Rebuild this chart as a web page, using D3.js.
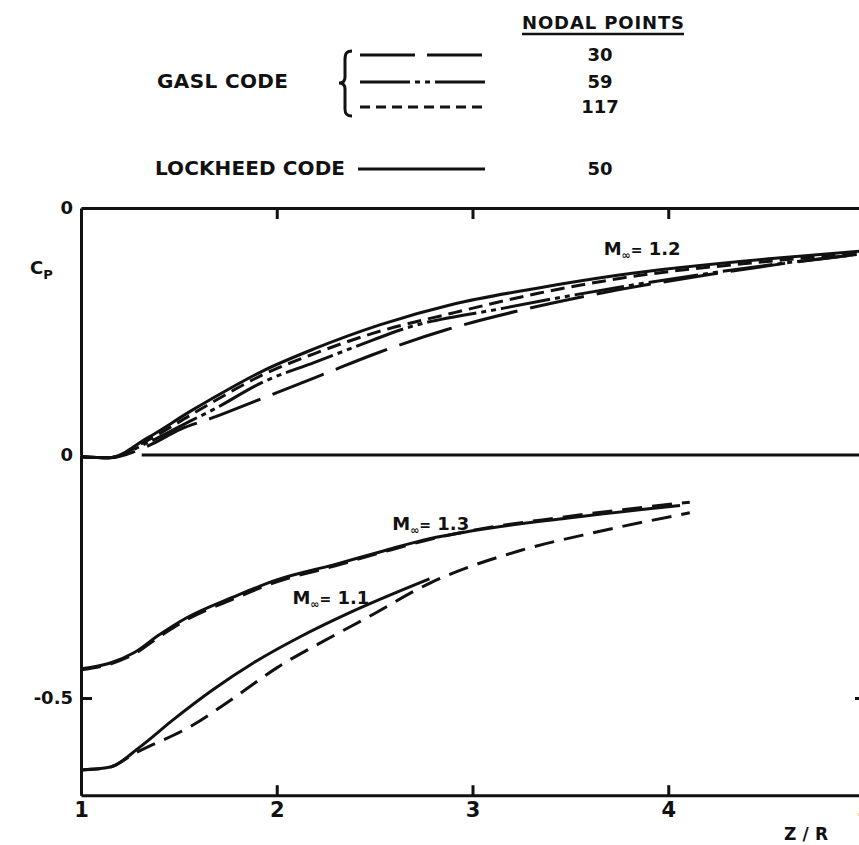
<!DOCTYPE html>
<html>
<head>
<meta charset="utf-8">
<script src="https://cdn.jsdelivr.net/npm/d3@7/dist/d3.min.js"></script>
<style>
  body { margin: 0; background: #fff; }
  svg { display: block; }
  text { font-family: "DejaVu Sans", sans-serif; font-weight: bold; fill: #111; }
</style>
</head>
<body>
<div id="chart"></div>
<script>
// ── Data (Z/R, Cp) ─────────────────────────────────────────────────────────
// Upper panel, M = 1.2 (Cp measured from the upper panel's own zero)
const M12_LOCKHEED_50 = [
    [1.00, -0.512], [1.14, -0.514], [1.34, -0.473], [1.56, -0.418], [1.67, -0.392],
    [1.93, -0.335], [2.19, -0.290], [2.53, -0.240], [2.90, -0.198], [3.33, -0.165],
    [3.75, -0.138], [4.56, -0.103], [5.00, -0.088]
];
const M12_GASL_117 = [
    [1.00, -0.512], [1.14, -0.514], [1.34, -0.478], [1.56, -0.426], [1.67, -0.400],
    [1.93, -0.343], [2.19, -0.300], [2.49, -0.258], [2.90, -0.216], [3.33, -0.176],
    [3.75, -0.145], [4.56, -0.108], [5.00, -0.092]
];
const M12_GASL_59 = [
    [1.00, -0.512], [1.14, -0.514], [1.34, -0.483], [1.56, -0.438], [1.67, -0.416],
    [1.93, -0.358], [2.19, -0.318], [2.49, -0.272], [2.63, -0.251], [3.16, -0.206],
    [3.75, -0.163], [4.56, -0.115], [5.00, -0.094]
];
const M12_GASL_30 = [
    [1.00, -0.512], [1.14, -0.514], [1.34, -0.490], [1.51, -0.455], [1.67, -0.432],
    [1.93, -0.391], [2.27, -0.337], [2.49, -0.302], [2.87, -0.250], [3.23, -0.212],
    [3.57, -0.182], [3.75, -0.168], [4.21, -0.137], [4.56, -0.116], [5.00, -0.094]
];

// Lower panel, M = 1.3 and M = 1.1
const M13_LOCKHEED_50 = [
    [1.00, -0.440], [1.15, -0.428], [1.27, -0.407], [1.40, -0.370], [1.54, -0.335],
    [1.78, -0.292], [2.00, -0.257], [2.29, -0.226], [2.54, -0.198], [2.78, -0.172],
    [3.00, -0.156], [3.46, -0.131], [4.06, -0.104]
];
const M13_GASL_117 = [
    [1.00, -0.442], [1.15, -0.430], [1.27, -0.410], [1.40, -0.374], [1.54, -0.339],
    [1.78, -0.296], [2.00, -0.261], [2.29, -0.229], [2.54, -0.200], [2.78, -0.174],
    [3.00, -0.155], [3.46, -0.128], [4.11, -0.097]
];
const M11_LOCKHEED_50 = [
    [1.00, -0.648], [1.15, -0.642], [1.30, -0.601], [1.47, -0.545], [1.67, -0.484],
    [1.88, -0.428], [2.12, -0.374], [2.37, -0.325], [2.78, -0.255]
];
const M11_GASL_117 = [
    [1.00, -0.648], [1.15, -0.642], [1.27, -0.615], [1.57, -0.556], [1.78, -0.500],
    [2.00, -0.438], [2.29, -0.372], [2.46, -0.335], [2.78, -0.264], [3.24, -0.197],
    [3.64, -0.158], [4.11, -0.119]
];

const X_TICKS = [1, 2, 3, 4, 5];
const Y_TICKS = [0, -0.5];
const LEGEND_ROWS = [
    { code: "GASL", nodes: "30", dash: "55,12" },
    { code: "GASL", nodes: "59", dash: "50,5,5,5,5,5" },
    { code: "GASL", nodes: "117", dash: "10,6" },
    { code: "LOCKHEED", nodes: "50", dash: null },
];

// ── Layout ─────────────────────────────────────────────────────────────────
const W = 859, H = 845;
const svg = d3.select("#chart").append("svg")
    .attr("width", W).attr("height", H);
svg.append("rect").attr("width", W).attr("height", H).attr("fill", "#fff");

const x = d3.scaleLinear().domain([1, 5]).range([81, 864]);
const y = d3.scaleLinear().domain([0, -0.7]).range([455, 795.2]);       // lower panel
const yUp = d3.scaleLinear().domain([0, -0.5]).range([208, 451]);       // upper panel

const line = ys => d3.line()
    .x(d => x(d[0]))
    .y(d => ys(d[1]))
    .curve(d3.curveMonotoneX);

// ── Curves ─────────────────────────────────────────────────────────────────
const curves = [
    { data: M12_GASL_30, ys: yUp, dash: "55,13" },
    { data: M12_GASL_59, ys: yUp, dash: "50,5,5,5,5,5" },
    { data: M12_GASL_117, ys: yUp, dash: "14,7" },
    { data: M12_LOCKHEED_50, ys: yUp, dash: null },
    { data: M13_GASL_117, ys: y, dash: "20,10" },
    { data: M13_LOCKHEED_50, ys: y, dash: null },
    { data: M11_GASL_117, ys: y, dash: "20,10" },
    { data: M11_LOCKHEED_50, ys: y, dash: null },
];

const gCurves = svg.append("g");
curves.forEach(c => {
    gCurves.append("path")
        .attr("d", line(c.ys)(c.data))
        .attr("fill", "none")
        .attr("stroke", "#111")
        .attr("stroke-width", 3)
        .attr("stroke-dasharray", c.dash);
});

// lower panel zero line (starts where the upper curves leave it)
svg.append("line")
    .attr("x1", x(1.31)).attr("x2", x(5))
    .attr("y1", y(0)).attr("y2", y(0))
    .attr("stroke", "#111").attr("stroke-width", 3);

// ── Axes / frame ───────────────────────────────────────────────────────────
function styleAxis(g) {
    g.selectAll("path, line").attr("stroke", "#111").attr("stroke-width", 3);
    g.selectAll("text").attr("fill", "#111")
        .style("font-family", "DejaVu Sans, sans-serif").style("font-weight", "bold");
}

svg.append("g")
    .attr("transform", `translate(0,${y(-0.7)})`)
    .call(d3.axisBottom(x).tickValues(X_TICKS).tickSizeInner(-10).tickSizeOuter(0)
        .tickPadding(7).tickFormat(d3.format("d")))
    .call(styleAxis)
    .call(g => g.selectAll("text").style("font-size", "21px"));

svg.append("g")
    .attr("transform", `translate(0,${yUp(0)})`)
    .call(d3.axisTop(x).tickValues([2, 3, 4]).tickSizeInner(-11).tickSizeOuter(0).tickFormat(""))
    .call(styleAxis);

svg.append("g")
    .attr("transform", `translate(${x(1)},0)`)
    .call(d3.axisLeft(y).tickValues(Y_TICKS).tickSizeInner(-11).tickSizeOuter(0)
        .tickPadding(8).tickFormat(d => d === 0 ? "0" : "-0.5"))
    .call(styleAxis)
    .call(g => g.selectAll("text").style("font-size", "18px"))
    .call(g => g.selectAll(".tick line").filter(d => d === 0).remove());

const yUpAxis = d3.scaleLinear().domain([0, -0.508]).range([208, 455]);
svg.append("g")
    .attr("transform", `translate(${x(1)},0)`)
    .call(d3.axisLeft(yUpAxis).tickValues([0]).tickSize(0).tickPadding(8).tickFormat(() => "0"))
    .call(styleAxis)
    .call(g => g.selectAll("text").style("font-size", "18px"));

svg.append("g")
    .attr("transform", `translate(${x(5)},0)`)
    .call(d3.axisRight(y).tickValues([-0.5]).tickSizeInner(-9).tickSizeOuter(0).tickFormat(""))
    .call(styleAxis);

// axis titles
const cp = svg.append("text").attr("x", 30).attr("y", 274).style("font-size", "18px");
cp.append("tspan").text("C");
cp.append("tspan").attr("dy", 5).style("font-size", "13px").text("P");

svg.append("text")
    .attr("x", 784).attr("y", 840)
    .attr("textLength", 44).attr("lengthAdjust", "spacing")
    .style("font-size", "17px").text("Z/R");

// ── Mach labels ────────────────────────────────────────────────────────────
function machLabel(ys, z, c, value) {
    const t = svg.append("text").attr("x", x(z)).attr("y", ys(c)).style("font-size", "18px");
    t.append("tspan").text("M");
    t.append("tspan").attr("dy", 4).style("font-size", "11px").text("∞");
    t.append("tspan").attr("dy", -4).style("font-size", "14px").text("=");
    t.append("tspan").style("font-size", "18px").text(" " + value);
}
machLabel(yUp, 3.67, -0.097, "1.2");
machLabel(y, 2.59, -0.154, "1.3");
machLabel(y, 2.08, -0.307, "1.1");

// ── Legend ─────────────────────────────────────────────────────────────────
const lg = svg.append("g");

lg.append("text").attr("x", 522).attr("y", 29)
    .attr("textLength", 162).attr("lengthAdjust", "spacing")
    .style("font-size", "18px").text("NODAL POINTS");
lg.append("line").attr("x1", 522).attr("x2", 684).attr("y1", 34).attr("y2", 34)
    .attr("stroke", "#111").attr("stroke-width", 2.5);

lg.append("text").attr("x", 157).attr("y", 88)
    .attr("textLength", 131).attr("lengthAdjust", "spacing")
    .style("font-size", "20px").text("GASL CODE");
lg.append("text").attr("x", 155).attr("y", 175)
    .attr("textLength", 190).attr("lengthAdjust", "spacing")
    .style("font-size", "20px").text("LOCKHEED CODE");

lg.append("path")
    .attr("d", "M352,51 C346,51 345,54 345,60 L345,77 C345,81 343,83 339,83 C343,83 345,85 345,89 L345,109 C345,114 347,116 352,116")
    .attr("fill", "none").attr("stroke", "#111").attr("stroke-width", 3);

const rowY = [55, 82, 107, 169];
LEGEND_ROWS.forEach((r, i) => {
    lg.append("line")
        .attr("x1", r.code === "LOCKHEED" ? 358 : 360).attr("x2", 485)
        .attr("y1", rowY[i]).attr("y2", rowY[i])
        .attr("stroke", "#111").attr("stroke-width", 3)
        .attr("stroke-dasharray", r.dash);
    lg.append("text")
        .attr("x", 600).attr("y", rowY[i] + 6)
        .attr("text-anchor", "middle")
        .style("font-size", "18px").text(r.nodes);
});
</script>
</body>
</html>
